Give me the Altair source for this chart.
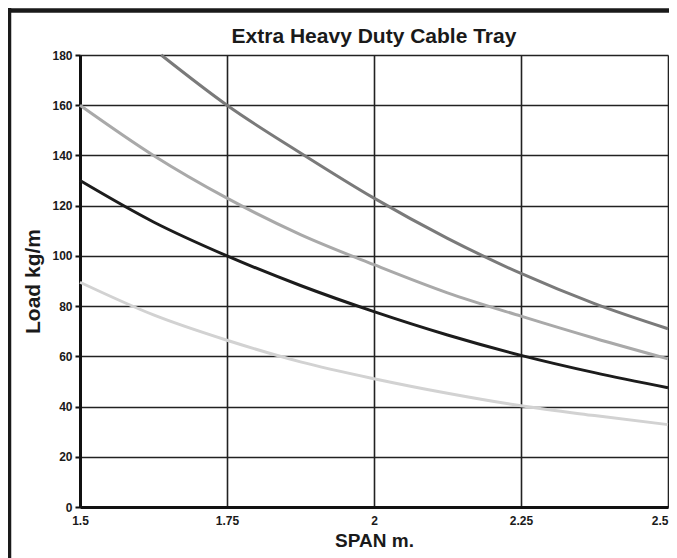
import altair as alt
import pandas as pd

# ---- data ----
chart_title = "Extra Heavy Duty Cable Tray"
span_ticks = [1.5, 1.75, 2.0, 2.25, 2.5]
load_ticks = [0, 20, 40, 60, 80, 100, 120, 140, 160, 180]

series_names = ["Curve 1", "Curve 2", "Curve 3", "Curve 4"]
series_colors = ["#7a7a7a", "#a9a9a9", "#1c1c1c", "#d2d2d2"]

s1_span = [1.638, 1.75, 1.875, 2.0, 2.125, 2.25, 2.375, 2.5]
s1_load = [180, 160, 141, 123, 107, 93, 81, 71]
s2_span = [1.5, 1.625, 1.75, 1.875, 2.0, 2.125, 2.25, 2.375, 2.5]
s2_load = [160, 140, 123, 108.5, 96.5, 85.3, 76, 67.2, 59]
s3_span = [1.5, 1.625, 1.75, 1.875, 2.0, 2.125, 2.25, 2.375, 2.5]
s3_load = [130, 113.5, 100, 88.2, 77.8, 68.5, 60.4, 53.5, 47.5]
s4_span = [1.5, 1.625, 1.75, 1.875, 2.0, 2.125, 2.25, 2.375, 2.5]
s4_load = [89.5, 76.5, 66.4, 57.8, 51.1, 45.3, 40.3, 36.4, 32.8]

rows = []
for name, xs, ys in zip(series_names,
                        [s1_span, s2_span, s3_span, s4_span],
                        [s1_load, s2_load, s3_load, s4_load]):
    for i, (x, y) in enumerate(zip(xs, ys)):
        rows.append({"series": name, "span": x, "load": y, "order": i})
df = pd.DataFrame(rows)

FONT = "Liberation Sans, Arial, sans-serif"
PLOT_W = 588
PLOT_H = 452

lines = alt.Chart(df).mark_line(strokeWidth=3, interpolate="monotone").encode(
    x=alt.X("span:Q",
            scale=alt.Scale(domain=[1.5, 2.5], nice=False, zero=False),
            axis=alt.Axis(values=span_ticks, title="SPAN m.",
                          labelExpr="'' + datum.value",
                          labelAlign={"expr": "datum.value >= 2.5 ? 'right' : 'center'"},
                          ticks=False, labelPadding=8, titlePadding=5,
                          titleFontSize=19, labelFlush=False)),
    y=alt.Y("load:Q",
            scale=alt.Scale(domain=[0, 180], nice=False),
            axis=alt.Axis(values=load_ticks, title="Load kg/m",
                          tickSize=5, tickWidth=2, tickColor="#111",
                          labelPadding=3, titlePadding=8, titleFontSize=21)),
    color=alt.Color("series:N",
                    scale=alt.Scale(domain=series_names, range=series_colors),
                    legend=None),
    order="order:Q",
)

blank = alt.Data(values=[{}])
border_top = alt.Chart(blank).mark_rule(color="#1a1a1a", strokeWidth=4.5).encode(
    x=alt.value(-80), x2=alt.value(700), y=alt.value(-44.5))
border_left = alt.Chart(blank).mark_rule(color="#1a1a1a", strokeWidth=4.5).encode(
    x=alt.value(-71), y=alt.value(-47), y2=alt.value(560))

title_mark = alt.Chart(alt.Data(values=[{"t": chart_title}])).mark_text(
    font=FONT, fontSize=21, fontWeight="bold", color="#1a1a1a",
    align="center", baseline="middle",
).encode(x=alt.value(294), y=alt.value(-18), text="t:N")

chart = alt.layer(lines, border_top, border_left, title_mark).properties(
    width=PLOT_W,
    height=PLOT_H,
    autosize=alt.AutoSizeParams(type="none"),
    padding={"left": 72, "top": 47, "right": 1, "bottom": 51},
    background="white",
).configure_view(stroke=None).configure_axis(
    grid=True, gridColor="#222", gridWidth=1.6, gridOpacity=1,
    domainColor="#111", domainWidth=3,
    labelFont=FONT, labelFontSize=12, labelFontWeight="bold", labelColor="#1a1a1a",
    titleFont=FONT, titleFontWeight="bold", titleColor="#1a1a1a",
)

chart.save("out.html", embed_options={"renderer": "svg", "actions": False})
